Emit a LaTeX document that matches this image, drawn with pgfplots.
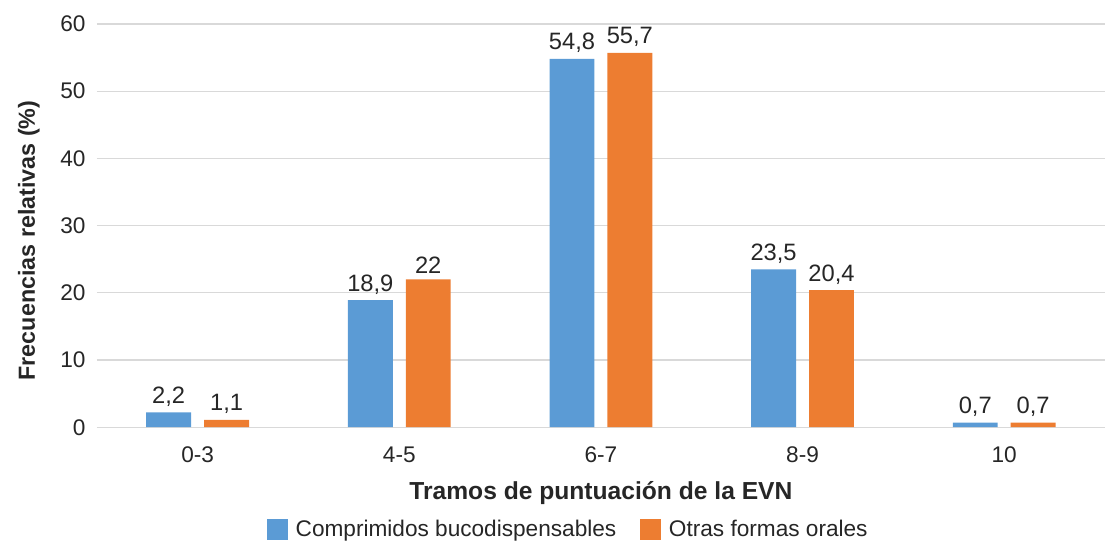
\documentclass[border=0pt]{standalone}
\usepackage{pgfplots}
\pgfplotsset{compat=1.18}
\usepackage{fontspec}
\setmainfont{Liberation Sans}
\usetikzlibrary{calc}
\definecolor{cblue}{HTML}{5B9BD5}
\definecolor{corange}{HTML}{ED7D31}
\definecolor{cgrid}{HTML}{D9D9D9}
\definecolor{ctext}{HTML}{262626}
\begin{document}
\begin{tikzpicture}
\begin{axis}[
  name=ax,
  scale only axis,
  width=757.5pt, height=303pt,
  xmin=-0.5, xmax=4.5, ymin=0, ymax=60,
  xtick={0,1,2,3,4},
  xticklabels={0-3,4-5,6-7,8-9,10},
  ytick={0,10,20,30,40,50,60},
  ymajorgrids, grid style={cgrid, line width=1pt},
  major tick length=0pt,
  axis line style={draw=none},
  tick label style={font=\fontsize{17}{20}\selectfont, text=ctext},
  /pgf/number format/assume math mode=true,
  yticklabel style={xshift=-5pt},
  xticklabel style={yshift=-11pt},
  xlabel={\bfseries Tramos de puntuación de la EVN},
  ylabel={\bfseries Frecuencias relativas (\%)},
  xlabel style={font=\fontsize{18.5}{22}\selectfont, text=ctext, at={(axis description cs:0.5,-0.162)}, anchor=center},
  ylabel style={font=\fontsize{17.5}{21}\selectfont, text=ctext, at={(axis description cs:-0.0674,0.463)}, anchor=center},
  ybar, bar width=33.75pt,
  nodes near coords,
  every node near coord/.append style={font=\fontsize{17.8}{21}\selectfont, text=ctext, /pgf/number format/use comma, /pgf/number format/assume math mode=true, yshift=1pt},
  legend style={at={(0.468,-0.254)}, anchor=center, draw=none, legend columns=2, font=\fontsize{17}{20}\selectfont, text=ctext,
    /tikz/every odd column/.append style={column sep=4pt},
    /tikz/every even column/.append style={column sep=16pt}},
  legend image code/.code={\fill[#1] (0pt,-7.5pt) rectangle (15.5pt,8pt);},
]
\addplot[fill=cblue, draw=none, bar shift=-21.75pt] coordinates {(0,2.2) (1,18.9) (2,54.8) (3,23.5) (4,0.7)};
\addlegendentry{Comprimidos bucodispensables}
\addplot[fill=corange, draw=none, bar shift=21.75pt] coordinates {(0,1.1) (1,22) (2,55.7) (3,20.4) (4,0.7)};
\addlegendentry{Otras formas orales}
\end{axis}
\pgfresetboundingbox
\path ($(ax.south west)+(-72.75pt,-90.75pt)$) rectangle ($(ax.north east)+(0pt,18pt)$);
\end{tikzpicture}
\end{document}
